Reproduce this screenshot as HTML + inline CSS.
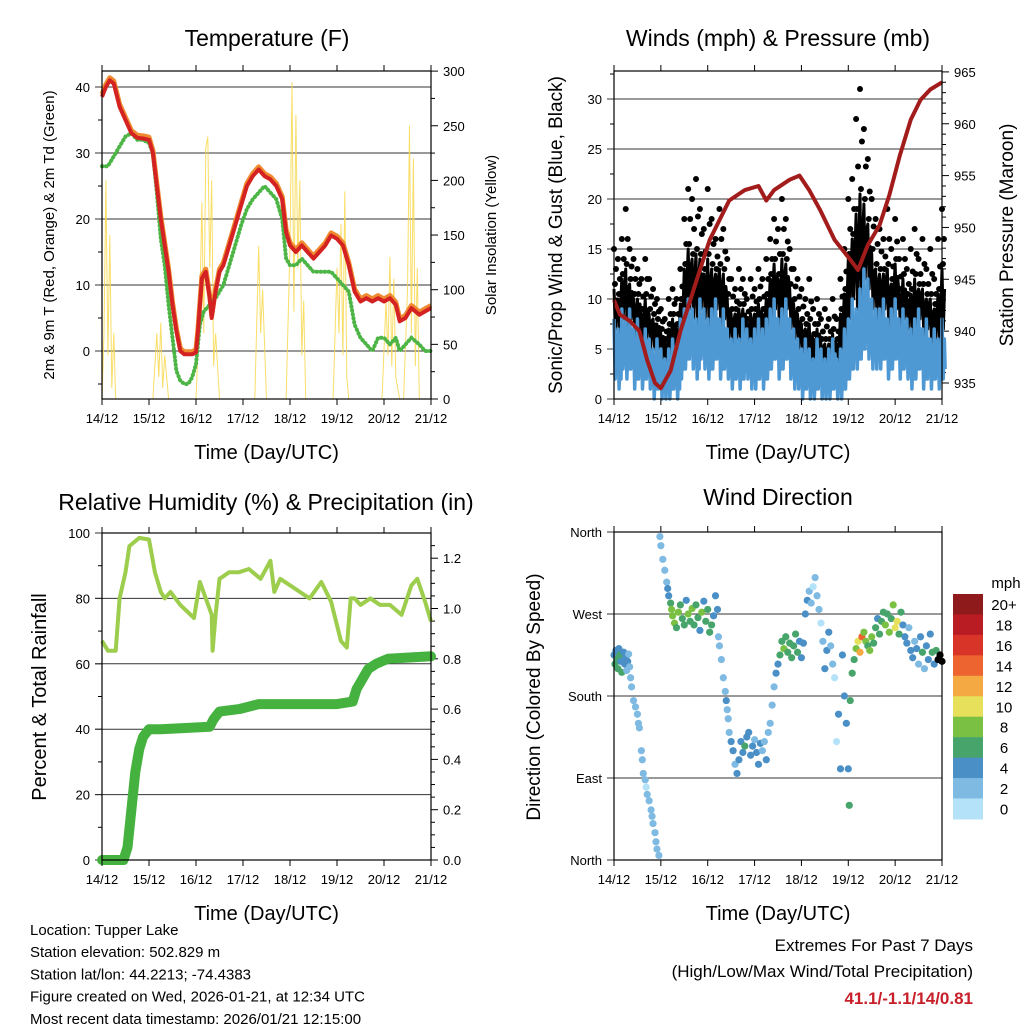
<!DOCTYPE html>
<html><head><meta charset="utf-8"><style>
html,body{margin:0;padding:0;background:#fff;}
svg{display:block;font-family:"Liberation Sans",sans-serif;}
</style></head><body>
<svg id="c" width="1024" height="1024" viewBox="0 0 1024 1024" xmlns="http://www.w3.org/2000/svg"></svg>
<script>
// ---------- DATA ----------
const dayLabels=["14/12","15/12","16/12","17/12","18/12","19/12","20/12","21/12"];
const tempH=[0,2,4,6,9,12,15,18,21,24,26,28,30,32,34,36,38,40,42,44,46,48,49,51,53,55,56,58,60,62,65,68,71,74,77,80,83,86,89,92,94,96,99,102,105,108,111,114,117,120,123,126,129,132,135,138,141,144,147,150,152,155,158,162,165,168];
const tempT=[38.5,40,41,40.5,37,35,33,32.3,32.2,32,30,25,20,16,12,7,3,0,-0.5,-0.5,-0.5,-0.2,3,11,12,8,5,9,12,13,16,19,22,25,26.5,27.5,26.5,26,25,23,18,16,15,16,15,14,15,16,17.5,17,16,13,9,7.5,8,7.5,8,7.5,8,7,4.5,5,6.5,5.5,6,6.5];
const tdH=[0,3,6,9,12,15,18,21,24,26,28,30,32,34,36,38,40,42,44,46,48,50,52,55,58,62,65,68,71,74,77,80,83,86,89,92,94,96,99,102,105,108,111,114,117,120,123,126,129,132,135,138,141,144,147,150,152,155,158,162,165,168];
const tdV=[28,28,29.5,31,32.5,33,32,32,31.5,30,24,17,13,7,2,-3,-4.5,-5,-5,-4,-2,4,6,7,8,10,13,16,19,21.5,23,24,25,24,23,20,14,13,13,14,13,12,12,12,12,11,10,9,4,2,1,0,2,2,1,2,0,1,2,1,0,0];
const solarH=[0,1,2,3,4,5,6,7,8,26,28,29,30,31,32,34,48,50,51,52,53,54,55,56,57,58,60,78,80,81,82,84,94,96,97,98,99,100,101,102,103,104,118,120,121,122,123,124,125,126,143,145,146,147,148,149,150,152,154,156,157,158,159,160,161,162,168];
const solarV=[0,60,200,40,150,10,60,0,0,0,60,20,70,10,40,0,0,90,180,60,230,240,120,200,30,60,0,0,140,60,100,0,0,140,290,80,260,120,200,40,90,0,0,120,60,160,40,190,20,0,0,90,40,130,30,110,20,0,0,100,250,60,220,30,120,0,0];
const presH=[0,3,8,13,17,21,24,29,34,44,49,54,59,67,74,78,82,90,95,100,105.5,113,121,125,130,136,141,146.5,152,157,162,168];
const presV=[943,941.6,941,940,937.2,935,934.5,936.2,940,945.9,948.8,950.7,952.6,953.6,954,952.6,953.6,954.6,955,953.6,951.7,948.8,946.9,945.9,948.3,950.2,953.1,957,960.4,962.3,963.3,964];
const windHi=[8,7,9,8,9,7,8,6,7,6,5,6,5,4,5,6,5,8,9,10,9,8,10,9,8,9,10,8,9,7,6,7,6,8,7,6,7,8,7,8,9,10,8,9,10,8,7,6,5,6,5,4,6,5,4,5,6,4,5,7,8,10,9,11,13,12,10,9,9,10,8,9,10,8,9,8,7,8,9,7,8,6,7,6,8];
const windLo=[2,1,3,2,3,1,2,1,2,1,0,1,0,0,0,1,0,2,3,4,3,2,4,3,2,3,4,2,3,2,1,2,1,2,2,1,1,2,1,2,3,4,2,3,4,2,1,1,0,1,0,0,1,0,0,0,1,0,0,1,2,3,3,4,5,4,3,3,3,4,2,3,4,2,3,2,1,2,3,1,2,1,2,1,2];
const gustHi=[15,14,16,19,15,14,13,12,14,12,11,10,9,8,10,11,10,13,18,21,20,22,19,17,21,18,16,19,17,14,12,11,13,12,10,12,11,13,12,14,16,18,17,20,18,15,13,12,11,10,12,9,10,8,9,8,10,8,12,15,20,22,28,31,27,24,20,18,17,16,19,15,18,14,16,13,15,17,14,16,13,15,12,16,19];
const gustLo=[7,6,8,7,8,6,7,5,6,5,5,5,4,3,4,5,4,6,8,9,8,7,9,8,7,8,9,7,8,6,5,6,5,6,5,5,6,6,5,6,8,9,7,8,9,7,6,5,4,4,3,3,4,3,2,3,3,3,5,6,8,10,9,10,12,11,9,8,8,9,7,8,9,7,8,7,6,7,8,6,7,5,6,5,7];
const rhH=[0,3,7,9,12,14,19,24,27,30,32,35,40,47,50,56,56.5,58,60,65,70,75,81,86,88,91,96,101,106,112,117,122,125,127,129,132,137,142,147,153,158,161,165,168];
const rhV=[67,64,64,80,88,96,98.5,98,88,82,80,82,78,74,85,75,64,75,86,88,88,89,86,91.5,82,86,84,82,80,85,79,67,65,80,80,78,80,78,78,75,84,86,79,73];
const rainH=[0,11,13,15,17,19,21,24,30,55,57,60,70,80,120,128,130,133,136,140,146,168];
const rainV=[0,0,0.05,0.2,0.35,0.44,0.49,0.52,0.52,0.53,0.56,0.59,0.6,0.62,0.62,0.63,0.68,0.72,0.76,0.78,0.8,0.81];
const dirH=[0,0.5,1,1.5,2,2.5,3,3.5,4,5,5.5,6,6.5,7,7.5,8,8.5,9,10,11,12,12.5,13,14,14.5,15,16,16.5,17,18,19,19.5,20,21,21.5,22,23,23.5,24,25,26,27,27.5,28,29,29.5,30,31,32,33,34,35,36,37,38,39,40,41,42,43,44,45,46,47,48,49,50,51,52,53,53.5,54,55,56,57,57.5,58,58.5,59,60,61,62,63,64,65,66,67,68,69,70,71,72,73,74,75,76,77,78,79,80,81,82,83,84,85,86,87,88,89,90,91,92,93,94,95,96,97,98,99,100,101,102,103,104,105,106,107,108,109,110,111,112,113,114,115,116,117,118,119,120,120.5,121,122,123,124,125,126,127,128,129,130,131,132,133,134,135,136,137,138,139,140,141,142,143,144,145,146,147,148,149,150,151,152,153,154,155,156,157,158,159,160,161,162,163,164,165,166,167,168];
const dirDeg=[225,215,230,220,210,232,225,218,206,228,215,222,208,218,226,212,200,190,175,168,160,150,145,120,110,95,88,80,72,65,55,48,40,30,20,12,5,355,345,330,318,305,298,290,282,275,268,260,255,272,280,265,258,285,270,262,276,258,280,266,252,272,284,262,275,250,258,268,290,275,245,235,220,200,185,175,165,155,140,130,120,105,95,110,130,118,125,135,140,115,125,132,118,105,128,120,130,110,140,150,170,190,205,215,225,240,232,245,228,238,222,235,248,228,240,222,238,270,285,295,282,300,310,290,275,260,240,210,230,250,235,215,200,130,160,100,225,180,150,100,60,175,205,220,232,240,228,245,250,240,235,230,245,238,255,265,248,262,272,258,270,250,265,280,255,262,248,272,258,245,238,255,230,222,240,232,215,245,228,210,235,220,248,228,215,230,220,225,218];
const dirSpd=[5,6,4,6,7,5,6,4,6,4,5,4,3,4,3,3,2,2,2,2,2,2,2,2,2,2,2,1,2,2,2,2,2,2,2,2,2,2,2,2,2,3,4,5,6,8,9,8,6,8,6,7,6,4,9,7,8,6,6,7,5,9,5,7,6,7,6,5,4,5,3,3,3,3,3,4,3,3,3,4,4,3,4,4,4,4,6,4,4,4,4,3,4,4,4,3,3,4,3,3,3,3,4,4,6,7,9,6,7,6,6,7,6,6,5,4,4,5,4,3,2,1,2,2,2,1,3,4,4,4,3,2,1,1,4,4,4,4,4,5,6,6,7,6,8,10,12,14,9,8,7,9,8,7,6,5,7,6,7,9,6,8,7,9,10,10,6,7,5,4,4,3,4,4,2,4,2,4,6,3,5,4,4,6,5,6];
const cbLabels=["20+","18","16","14","12","10","8","6","4","2","0"];
const cbColors=["#8e1a1b","#b91c23","#d93428","#ee6430","#f5a943","#e6e05a","#7ac143","#47a56c","#4a8fc6","#7fbae3","#b4e2f8"];

// ---------- HELPERS ----------
const svg=document.getElementById('c');
const NS="http://www.w3.org/2000/svg";
function mk(tag,attrs,name,inter){
  const el=document.createElementNS(NS,tag);
  for(const k in attrs) el.setAttribute(k,attrs[k]);
  
  
  svg.appendChild(el);return el;
}
function txt(x,y,s,size,name,opt){
  opt=opt||{};
  const a={x:x,y:y,'font-size':size,'text-anchor':opt.anchor||'middle',fill:opt.fill||'#000'};
  if(opt.weight)a['font-weight']=opt.weight;
  if(opt.rot!==undefined)a.transform='rotate('+opt.rot+' '+x+' '+y+')';
  const t=mk('text',a,name);t.textContent=s;return t;
}
function line(x1,y1,x2,y2,name,stroke,w){return mk('line',{x1:x1,y1:y1,x2:x2,y2:y2,stroke:stroke||'#000','stroke-width':w||1},name);}
function pts(xs,ys,fx,fy){return xs.map((h,i)=>fx(h).toFixed(1)+','+fy(ys[i]).toFixed(1)).join(' ');}
function hx(p){return h=>p.x0+h/168*(p.x1-p.x0);}
function xAxis(p,prefix){
  const fx=hx(p);
  dayLabels.forEach((d,i)=>{
    const x=fx(i*24);
    line(x,p.y1,x,p.y1+6,prefix+'-x-tick');
    line(x,p.y0,x,p.y0-6,prefix+'-x-tick-top');
    txt(x,p.y1+24,d,13,prefix+'-x-tick-label');
  });
  txt((p.x0+p.x1)/2,p.y1+60,'Time (Day/UTC)',20,prefix+'-x-axis-title');
}
function box(p,prefix){
  mk('rect',{x:p.x0,y:p.y0,width:p.x1-p.x0,height:p.y1-p.y0,fill:'none',stroke:'#000','stroke-width':1.2},prefix+'-plot-frame');
}
function leftTicks(p,vals,fy,labels,prefix,grid,minor){
  if(minor) minor.forEach(v=>line(p.x0-4,fy(v),p.x0,fy(v),prefix+'-y-minor-tick'));
  vals.forEach((v,i)=>{
    const y=fy(v);
    line(p.x0-7,y,p.x0,y,prefix+'-y-tick');
    if(grid) line(p.x0-7,y,p.x1,y,prefix+'-gridline','#333',1);
    txt(p.x0-12,y+5,labels[i],13,prefix+'-y-tick-label',{anchor:'end'});
  });
}
function rightTicks(p,vals,fy,labels,prefix,minor){
  if(minor) minor.forEach(v=>line(p.x1,fy(v),p.x1+4,fy(v),prefix+'-y2-minor-tick'));
  vals.forEach((v,i)=>{
    const y=fy(v);
    line(p.x1,y,p.x1+7,y,prefix+'-y2-tick');
    txt(p.x1+12,y+5,labels[i],13,prefix+'-y2-tick-label',{anchor:'start'});
  });
}

// ---------- PANEL 1: TEMPERATURE ----------
(function(){
const p={x0:102,x1:431,y0:71,y1:399};
const fx=hx(p), fT=v=>351-6.6*v, fS=v=>399-v*1.093;
txt(267,46,'Temperature (F)',23,'temperature-title');
leftTicks(p,[0,10,20,30,40],fT,['0','10','20','30','40'],'temp',true,[-5,5,15,25,35]);
rightTicks(p,[0,50,100,150,200,250,300],fS,['0','50','100','150','200','250','300'],'solar',[25,75,125,175,225,275]);
mk('polyline',{points:pts(solarH,solarV,fx,fS),fill:'none',stroke:'#f8d84c','stroke-width':1,'stroke-opacity':0.85},'solar-insolation-line');
mk('polyline',{points:pts(tempH,tempT.map(v=>v+0.4),fx,fT),fill:'none',stroke:'#f08a30','stroke-width':5,'stroke-linejoin':'round'},'temp-9m-orange-line');
mk('polyline',{points:pts(tdH,tdV,fx,fT),fill:'none',stroke:'#4db546','stroke-width':4,'stroke-dasharray':'0.5 3.5','stroke-linecap':'round'},'dewpoint-green-line');
mk('polyline',{points:pts(tempH,tempT,fx,fT),fill:'none',stroke:'#d42222','stroke-width':4,'stroke-linejoin':'round'},'temp-2m-red-line');
box(p,'temp');xAxis(p,'temp');
txt(54,235,'2m & 9m T (Red, Orange) & 2m Td (Green)',15,'temp-y-axis-title',{rot:-90});
txt(496,235,'Solar Insolation (Yellow)',15,'solar-y-axis-title',{rot:-90});
})();

// ---------- PANEL 2: WINDS ----------
(function(){
const p={x0:614,x1:942,y0:71,y1:399};
const fx=hx(p), fW=v=>399-10*v, fP=v=>383-(v-935)*10.37;
txt(778,46,'Winds (mph) & Pressure (mb)',23,'winds-title');
leftTicks(p,[0,5,10,15,20,25,30],fW,['0','5','10','15','20','25','30'],'wind',true,[2.5,7.5,12.5,17.5,22.5,27.5,32.5]);
rightTicks(p,[935,940,945,950,955,960,965],fP,['935','940','945','950','955','960','965'],'pressure',[936,937,938,939,941,942,943,944,946,947,948,949,951,952,953,954,956,957,958,959,961,962,963,964]);
const hs=windHi.map((v,i)=>i*2);
const gustMid=gustHi.map((v,i)=>(gustLo[i]+v)/2);
// jagged gust trace
let gz=[];
hs.forEach((h,i)=>{gz.push(fx(h)+','+fW(gustMid[i]));gz.push(fx(h+0.7)+','+fW(gustLo[i]));gz.push(fx(h+1.3)+','+fW((gustMid[i]+gustLo[i])/2+1));});
mk('polyline',{points:gz.join(' '),fill:'none',stroke:'#000','stroke-width':3,'stroke-linejoin':'round'},'gust-trace');
hs.forEach((h,i)=>{
  mk('circle',{cx:fx(h),cy:fW(gustHi[i]),r:3,fill:'#000'},'gust-point');
  mk('circle',{cx:fx(h+1),cy:fW((gustHi[i]+gustMid[i])/2),r:3,fill:'#000'},'gust-point');
  mk('circle',{cx:fx(h+0.5),cy:fW(gustMid[i]+0.5),r:3,fill:'#000'},'gust-point');
});
let wz=[];
hs.forEach((h,i)=>{wz.push(fx(h)+','+fW(windHi[i]));wz.push(fx(h+0.6)+','+fW(windLo[i]));wz.push(fx(h+1.2)+','+fW((windHi[i]+windLo[i])/2+1));wz.push(fx(h+1.6)+','+fW(windLo[i]+1));});
mk('polyline',{points:wz.join(' '),fill:'none',stroke:'#4e98d4','stroke-width':3.5,'stroke-linejoin':'round'},'wind-speed-trace');
mk('polyline',{points:pts(presH,presV,fx,fP),fill:'none',stroke:'#a31c1c','stroke-width':4,'stroke-linejoin':'round'},'pressure-maroon-line');
box(p,'wind');xAxis(p,'wind');
txt(562,235,'Sonic/Prop Wind & Gust (Blue, Black)',19,'wind-y-axis-title',{rot:-90});
txt(1013,235,'Station Pressure (Maroon)',19,'pressure-y-axis-title',{rot:-90});
})();

// ---------- PANEL 3: RH & PRECIP ----------
(function(){
const p={x0:102,x1:431,y0:533,y1:860};
const fx=hx(p), fR=v=>860-3.27*v, fPr=v=>860-251.5*v;
txt(266,510,'Relative Humidity (%) & Precipitation (in)',23,'rh-precip-title');
leftTicks(p,[0,20,40,60,80,100],fR,['0','20','40','60','80','100'],'rh',true,[10,30,50,70,90]);
rightTicks(p,[0,0.2,0.4,0.6,0.8,1.0,1.2],fPr,['0.0','0.2','0.4','0.6','0.8','1.0','1.2'],'precip',[0.05,0.1,0.15,0.25,0.3,0.35,0.45,0.5,0.55,0.65,0.7,0.75,0.85,0.9,0.95,1.05,1.1,1.15,1.25]);
mk('polyline',{points:pts(rhH,rhV,fx,fR),fill:'none',stroke:'#9ccd4c','stroke-width':4,'stroke-linejoin':'round'},'rh-line');
mk('polyline',{points:pts(rainH,rainV,fx,fPr),fill:'none',stroke:'#45b23f','stroke-width':10,'stroke-linejoin':'round','stroke-linecap':'round'},'precip-line');
box(p,'rh');xAxis(p,'rh');
txt(46,697,'Percent & Total Rainfall',20,'rh-y-axis-title',{rot:-90});
})();

// ---------- PANEL 4: WIND DIRECTION ----------
(function(){
const p={x0:614,x1:942,y0:532,y1:860};
const fx=hx(p), fD=v=>860-v*0.9111;
txt(778,505,'Wind Direction',23,'wind-direction-title');
leftTicks(p,[0,90,180,270,360],fD,['North','East','South','West','North'],'dir',true,null);
function col(s){let i=Math.min(10,Math.floor(s/2));return cbColors[10-i];}
dirH.forEach((h,i)=>{
  mk('circle',{cx:fx(h),cy:fD(dirDeg[i]),r:3.6,fill:col(dirSpd[i])},'direction-point');
});
box(p,'dir');xAxis(p,'dir');
txt(540,697,'Direction (Colored By Speed)',19,'dir-y-axis-title',{rot:-90});
const cx=953,cy=594,ch=20.45;
cbColors.forEach((c,i)=>{
  mk('rect',{x:cx,y:cy+i*ch,width:30,height:ch+0.5,fill:c},'colorbar-swatch');
  txt(1004,cy+i*ch+16,cbLabels[i],15,'colorbar-label');
});
txt(1006,588,'mph',15,'colorbar-title');
})();

// ---------- FOOTER ----------
const foot=["Location: Tupper Lake","Station elevation: 502.829 m","Station lat/lon: 44.2213; -74.4383","Figure created on Wed, 2026-01-21, at 12:34 UTC","Most recent data timestamp: 2026/01/21 12:15:00"];
foot.forEach((s,i)=>txt(30,935+i*22.2,s,15,'footer-info-line',{anchor:'start'}));
txt(973,951,'Extremes For Past 7 Days',17,'extremes-title',{anchor:'end'});
txt(973,977,'(High/Low/Max Wind/Total Precipitation)',17,'extremes-subtitle',{anchor:'end'});
txt(973,1004,'41.1/-1.1/14/0.81',17,'extremes-values',{anchor:'end',fill:'#c8202a',weight:'bold'});
</script>
</body></html>
